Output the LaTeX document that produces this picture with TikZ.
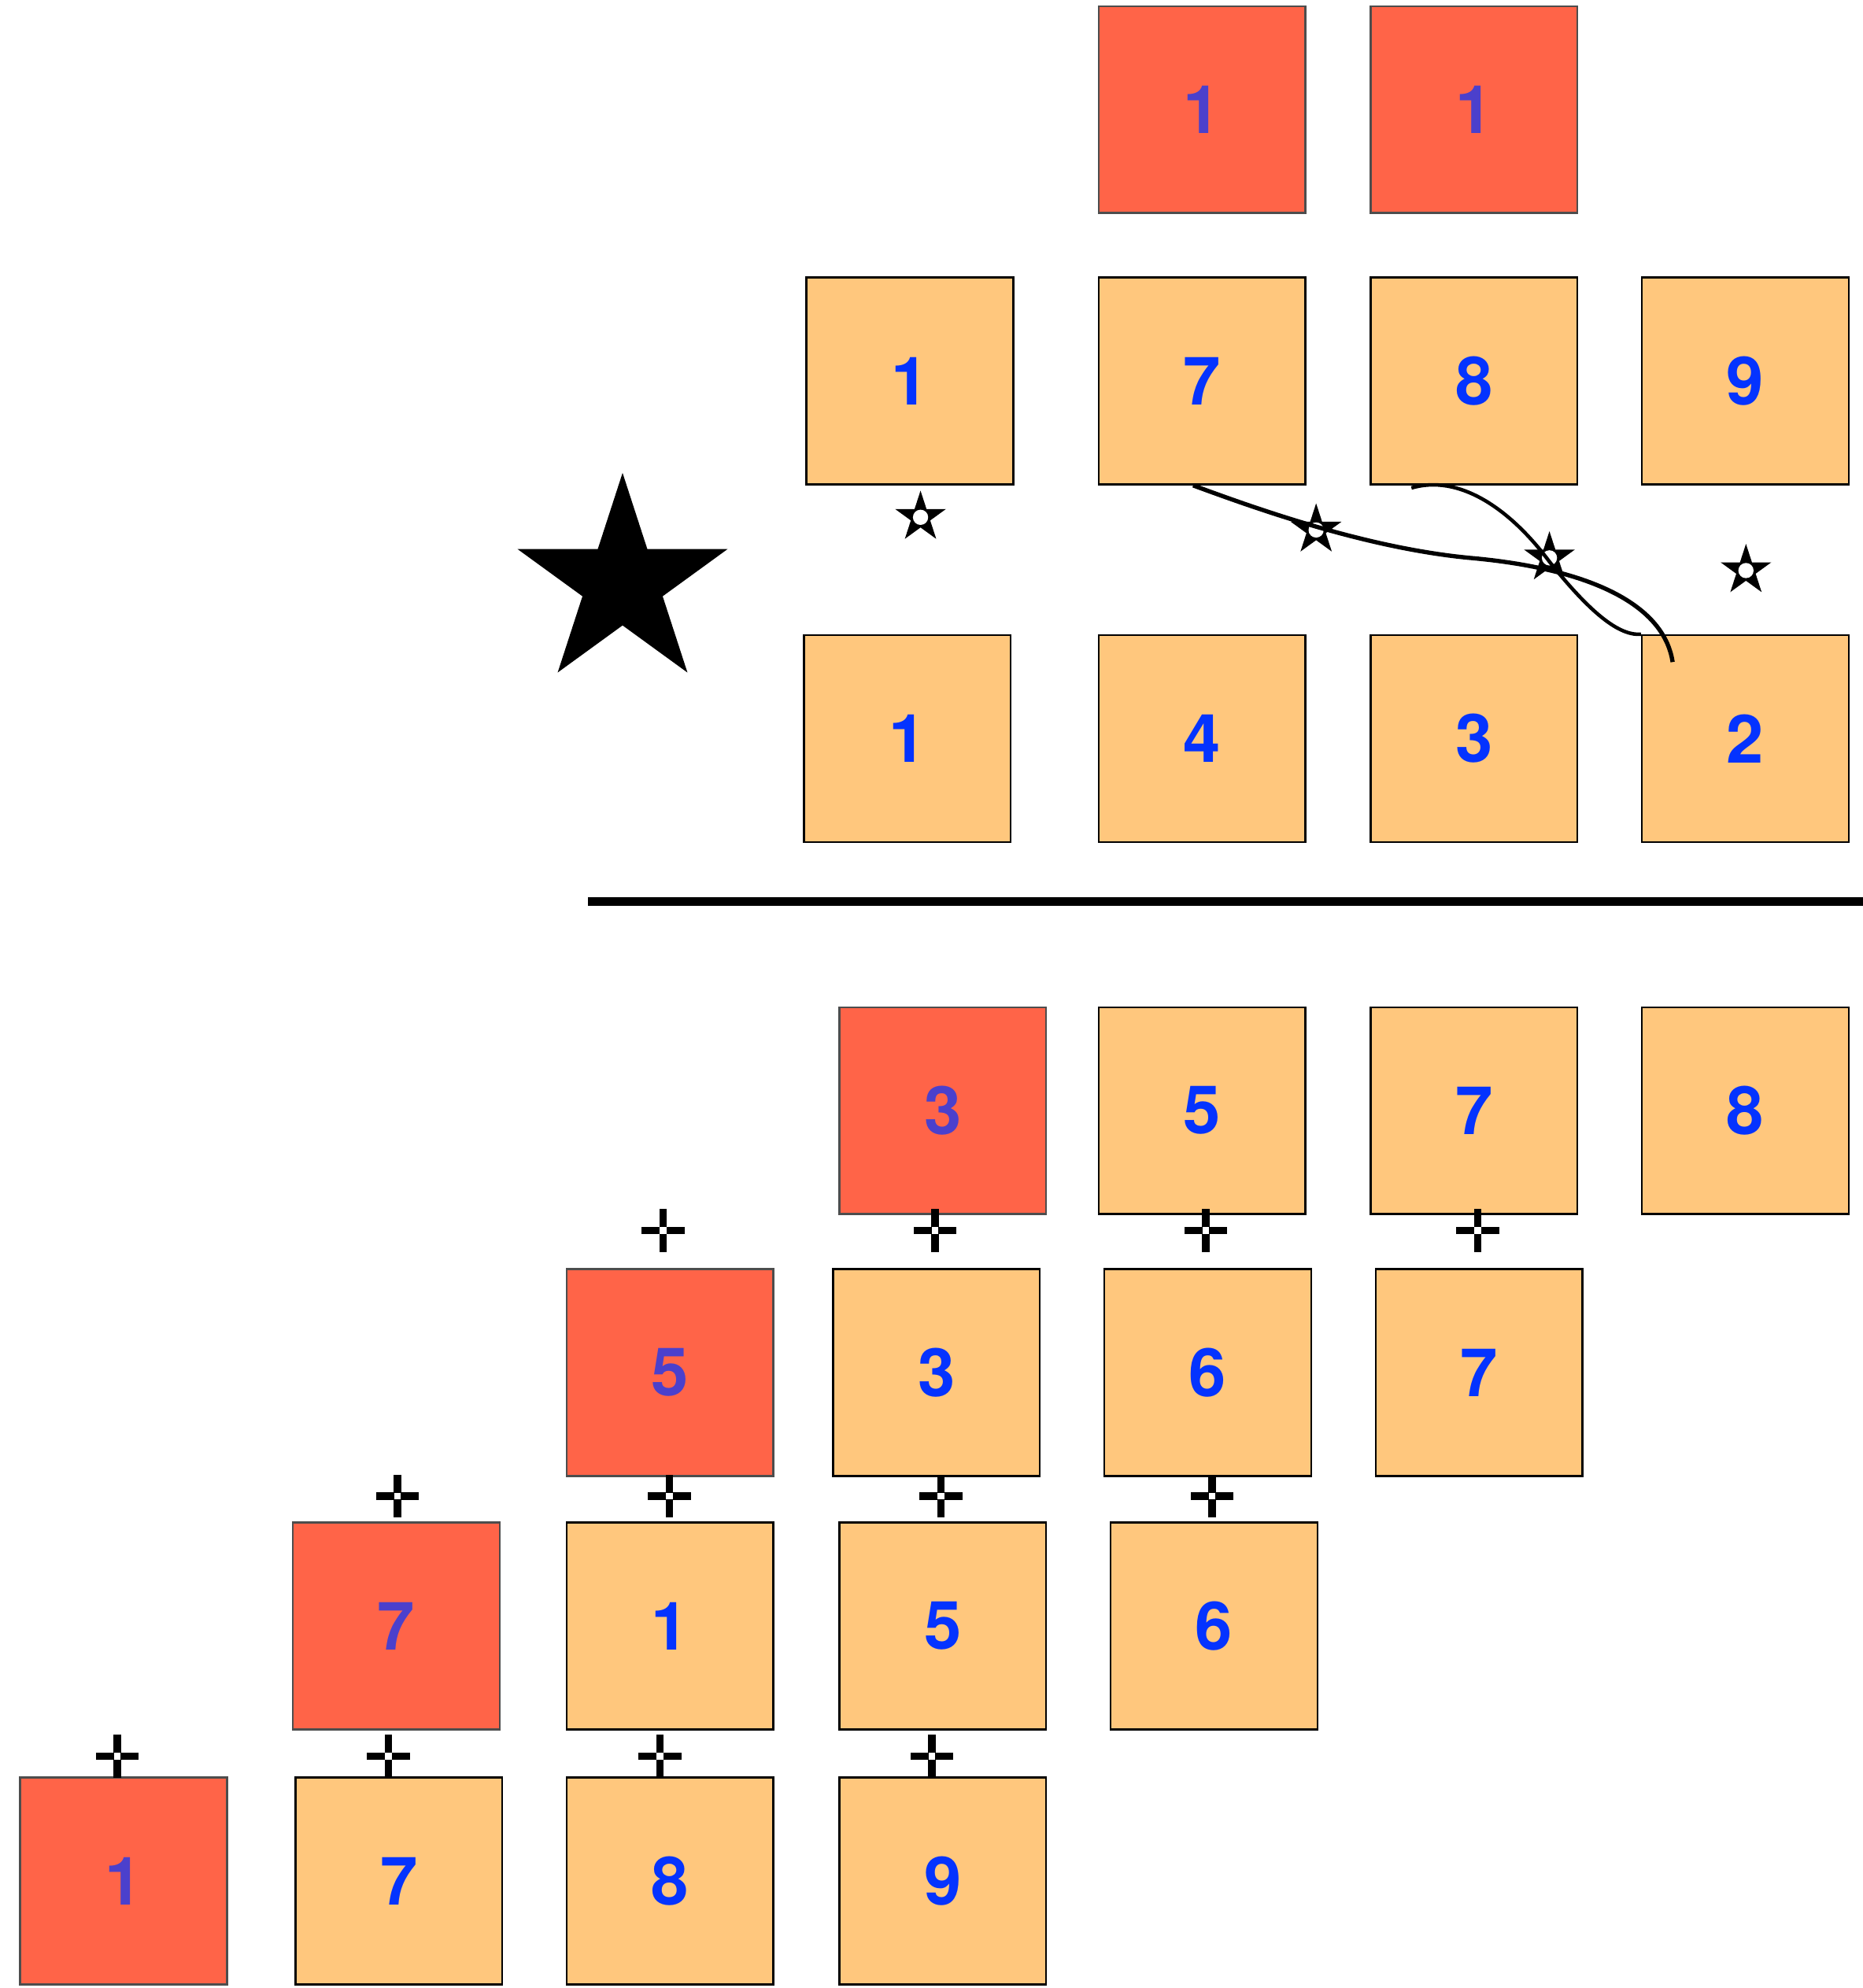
\documentclass[tikz,border=0pt]{standalone}
\usepackage{fontspec}
\setmainfont{TeX Gyre Heros}
\usetikzlibrary{shapes.geometric,calc}

\definecolor{cellorange}{RGB}{255,199,125}
\definecolor{cellred}{RGB}{255,100,72}
\definecolor{digitblue}{RGB}{4,51,255}
\definecolor{digitviolet}{RGB}{75,64,204}
\definecolor{edgegray}{RGB}{77,77,77}

\tikzset{
  cell/.style={draw=black, fill=cellorange, line width=0.45pt,
    minimum width=1.63cm, minimum height=1.63cm, inner sep=0pt,
    text=digitblue, font=\fontsize{15}{18}\selectfont\bfseries},
  hotcell/.style={cell, draw=edgegray, fill=cellred, text=digitviolet},
  pics/plusmark/.style={code={
    \foreach \a in {0,90,180,270}
      \draw[line width=0.58mm, rotate=\a] (0,2.7) -- (0,17);
  }},
  pics/ministar/.style={code={
    \node[star, star points=5, star point ratio=2.618, fill=black,
      minimum size=0.42cm, inner sep=0pt] {};
    \fill[white] (0,0) circle (0.6mm);
  }}
}

\begin{document}
\begin{tikzpicture}[x=0.01cm, y=-0.01cm]
  \useasboundingbox (0,0) rectangle (1469,1568);

  % Upper part: carried digits
  \node[hotcell] (t1) at (948,86.5) {1};
  \node[hotcell] (t2) at (1162.5,86.5) {1};

  % Upper part: first number
  \node[cell] (m1) at (717.5,300.5) {1};
  \node[cell] (m7) at (948,300.5) {7};
  \node[cell] (m8) at (1162.5,300.5) {8};
  \node[cell] (m9) at (1376.5,300.5) {9};

  % Upper part: second number
  \node[cell] (l1) at (715.5,582.5) {1};
  \node[cell] (l4) at (948,582.5) {4};
  \node[cell] (l3) at (1162.5,582.5) {3};
  \node[cell] (l2) at (1376.5,582.5) {2};

  % Multiplication sign
  \node[star, star points=5, star point ratio=2.618, fill=black,
    minimum size=1.74cm, inner sep=0pt] (bigstar) at (491,460) {};

  % Small star marks between the rows
  \pic at (726,408) {ministar};
  \pic at (1038,418) {ministar};
  \pic at (1222,440) {ministar};
  \pic at (1377,450) {ministar};

  % Crossing strokes
  \draw[line width=0.95pt] ($(m7.south)+(-7,0)$)
    .. controls (985,399) and (1075,432) .. (1159,440)
    .. controls (1250,448) and (1312,475) .. ($(l2.north west)+(25,22)$);
  \draw[line width=0.8pt] ($(m8.south west)+(33,2)$)
    .. controls (1150,374) and (1190,400) .. (1222,443)
    .. controls (1250,478) and (1275,502) .. (l2.north west);

  % Result line
  \draw[line width=1.85pt] (464,711) -- (1469,711);

  % Lower part: partial products
  \node[hotcell] (a3) at (743.5,876) {3};
  \node[cell] (a5) at (948,876) {5};
  \node[cell] (a7) at (1162.5,876) {7};
  \node[cell] (a8) at (1376.5,876) {8};

  \node[hotcell] (b5) at (528.5,1082.5) {5};
  \node[cell] (b3) at (738.5,1082.5) {3};
  \node[cell] (b6) at (952.5,1082.5) {6};
  \node[cell] (b7) at (1166.5,1082.5) {7};

  \node[hotcell] (c7) at (312.5,1282.5) {7};
  \node[cell] (c1) at (528.5,1282.5) {1};
  \node[cell] (c5) at (743.5,1282.5) {5};
  \node[cell] (c6) at (957.5,1282.5) {6};

  \node[hotcell] (d1) at (97.5,1483.5) {1};
  \node[cell] (d7) at (314.5,1483.5) {7};
  \node[cell] (d8) at (528.5,1483.5) {8};
  \node[cell] (d9) at (743.5,1483.5) {9};

  % Plus marks between the partial products
  \foreach \px in {523,737.5,951,1165.5}
    \pic at (\px,970.5) {plusmark};
  \foreach \px in {313.5,528,742,956}
    \pic at (\px,1180) {plusmark};
  \foreach \px in {92.5,306.5,520.5,735}
    \pic at (\px,1385) {plusmark};
\end{tikzpicture}
\end{document}
